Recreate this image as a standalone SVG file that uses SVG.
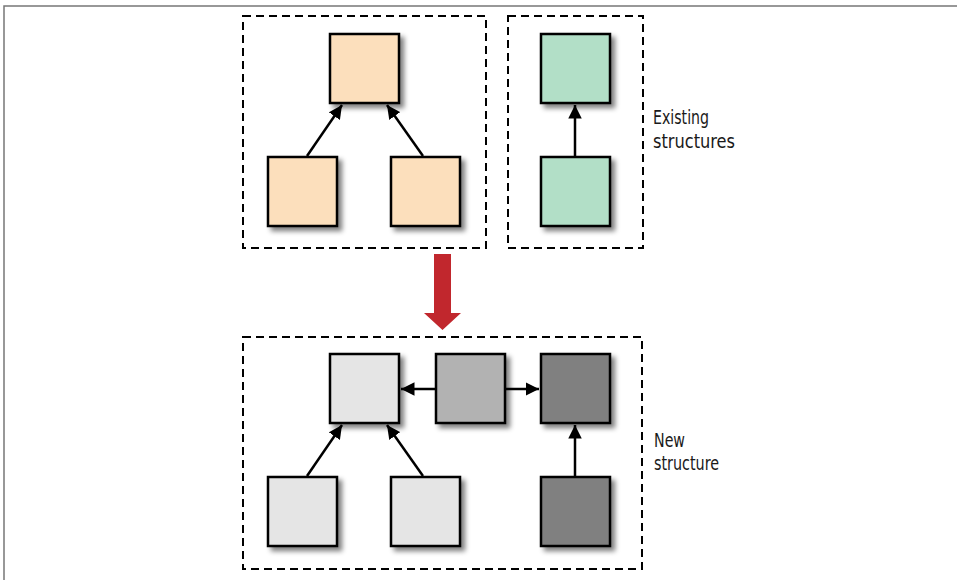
<svg xmlns="http://www.w3.org/2000/svg" width="957" height="580" viewBox="0 0 957 580">
<style>
.box{fill:none;stroke:#000;stroke-width:2;stroke-dasharray:8 5}
.n{stroke:#000;stroke-width:2.5;filter:url(#sh)}
.peach{fill:#FCDFBC}
.green{fill:#B2DFC7}
.lg{fill:#E5E5E5}
.mg{fill:#B2B2B2}
.dg{fill:#808080}
.c{stroke:#000;stroke-width:2.5;fill:none;marker-end:url(#ah)}
.lbl{font-family:"Liberation Sans Narrow","DejaVu Sans Condensed","Liberation Sans",sans-serif;font-size:19.5px;fill:#1a1a1a}
</style>
<defs>
<filter id="sh" x="-20%" y="-20%" width="150%" height="150%">
<feGaussianBlur in="SourceAlpha" stdDeviation="2.5"/>
<feOffset dx="4" dy="4" result="b"/>
<feComponentTransfer><feFuncA type="linear" slope="0.5"/></feComponentTransfer>
<feMerge><feMergeNode/><feMergeNode in="SourceGraphic"/></feMerge>
</filter>
<marker id="ah" viewBox="0 0 10 10" refX="10" refY="5" markerWidth="5.4" markerHeight="5.4" orient="auto" markerUnits="strokeWidth">
<path d="M0,0 L10,5 L0,10 z" fill="#000"/>
</marker>
</defs>
<rect x="0" y="0" width="957" height="580" fill="#fff"/>
<path d="M4,580 V6 H957" fill="none" stroke="#777" stroke-width="1.5"/>
<g id="groups">
<rect class="box" x="243" y="16" width="243" height="232"/>
<rect class="box" x="508" y="16" width="135" height="232"/>
<rect class="box" x="243" y="337" width="399" height="232"/>
</g>
<g id="connectors">
<line class="c" x1="307" y1="156" x2="342" y2="105"/>
<line class="c" x1="423" y1="156" x2="387" y2="105"/>
<line class="c" x1="575" y1="156" x2="575" y2="105"/>
<line class="c" x1="435" y1="389" x2="401" y2="389"/>
<line class="c" x1="505" y1="389" x2="539" y2="389"/>
<line class="c" x1="307" y1="476" x2="342" y2="425"/>
<line class="c" x1="423" y1="476" x2="387" y2="425"/>
<line class="c" x1="575" y1="476" x2="575" y2="425"/>
</g>
<g id="peach-top"><rect class="n peach" x="330" y="34" width="69" height="69"/></g>
<g id="peach-left"><rect class="n peach" x="268" y="157" width="69" height="69"/></g>
<g id="peach-right"><rect class="n peach" x="391" y="157" width="69" height="69"/></g>
<g id="green-top"><rect class="n green" x="541" y="34" width="69" height="69"/></g>
<g id="green-bottom"><rect class="n green" x="541" y="157" width="69" height="69"/></g>
<g id="new-top-left"><rect class="n lg" x="330" y="354" width="69" height="69"/></g>
<g id="new-top-mid"><rect class="n mg" x="436" y="354" width="69" height="69"/></g>
<g id="new-top-right"><rect class="n dg" x="541" y="354" width="69" height="69"/></g>
<g id="new-bottom-left"><rect class="n lg" x="268" y="477" width="69" height="69"/></g>
<g id="new-bottom-mid"><rect class="n lg" x="391" y="477" width="69" height="69"/></g>
<g id="new-bottom-right"><rect class="n dg" x="541" y="477" width="69" height="69"/></g>
<g id="transform-arrow">
<path d="M434,254 H451 V313 H461 L442.5,330 L424,313 H434 Z" fill="#C1272D"/>
</g>
<g id="labels">
<text class="lbl" x="653" y="124" textLength="56" lengthAdjust="spacingAndGlyphs">Existing</text>
<text class="lbl" x="653" y="148" textLength="82" lengthAdjust="spacingAndGlyphs">structures</text>
<text class="lbl" x="654" y="447" textLength="31" lengthAdjust="spacingAndGlyphs">New</text>
<text class="lbl" x="654" y="470" textLength="65" lengthAdjust="spacingAndGlyphs">structure</text>
</g>
</svg>
